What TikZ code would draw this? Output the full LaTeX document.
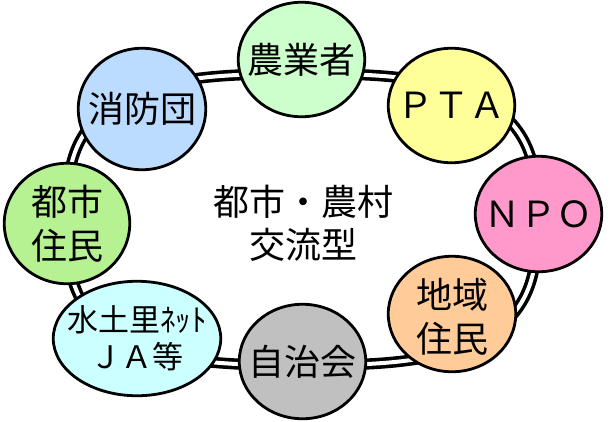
\documentclass[tikz,border=0pt]{standalone}
\usepackage{fontspec}
\setmainfont{Noto Sans CJK JP}
\usetikzlibrary{shapes.geometric}
\definecolor{cNogyo}{HTML}{CCFFCC}
\definecolor{cShobo}{HTML}{BBDBFF}
\definecolor{cPta}{HTML}{FFFF99}
\definecolor{cToshi}{HTML}{B6F291}
\definecolor{cNpo}{HTML}{FF99CC}
\definecolor{cChiiki}{HTML}{FFCC99}
\definecolor{cJichi}{HTML}{C0C0C0}
\definecolor{cMidori}{HTML}{CCFFFF}
\begin{document}
\begin{tikzpicture}[x=1pt,y=-1pt, line join=round, line cap=round,
		member/.style={ellipse, draw, line width=2.8pt, inner sep=0pt,
			minimum width=126.5pt, minimum height=114.5pt},
		lab/.style={align=center, inner sep=0pt, font=\fontsize{36}{44}\selectfont},
		ring/.style={line width=3.6pt, double=white, double distance=4pt}]
	\useasboundingbox (0,0) rectangle (615,421);
	% the ring behind the members
	\draw[ring] plot[smooth cycle, domain=0.5:358, samples=144]
		({302+235*sign(cos(\x))*pow(abs(cos(\x)),2/3)},{219.5+145.5*sign(sin(\x))*pow(abs(sin(\x)),2/3)});
	% members
	\node[member, fill=cNogyo, label={[lab]center:農業者}] (nogyo) at (301.5,59.5) {};
	\node[member, fill=cShobo, minimum width=127.5pt, minimum height=121.5pt,
		label={[lab]center:消防団}] (shobo) at (142,109) {};
	\node[member, fill=cPta, label={[lab]center:ＰＴＡ}] (pta) at (451.5,105.5) {};
	\node[member, fill=cToshi, minimum width=125.5pt, minimum height=120.5pt,
		label={[lab]center:都市\\住民}] (toshi) at (67,223.5) {};
	\node[member, fill=cNpo, minimum height=115.5pt, label={[lab]center:ＮＰＯ}] (npo) at (538.5,214) {};
	\node[member, fill=cChiiki, minimum width=127.5pt, minimum height=115.5pt,
		label={[lab, yshift=-3pt]center:地域\\住民}] (chiiki) at (452,314) {};
	\node[member, fill=cJichi, label={[lab]center:自治会}] (jichi) at (302.5,361.5) {};
	\node[member, fill=cMidori, minimum width=167.5pt,
		label={[lab, font=\fontsize{31}{37}\selectfont]center:水土里ﾈｯﾄ\\ＪＡ等}] (midori) at (137,338.5) {};
	% centre
	\node[lab, font=\fontsize{36}{43}\selectfont] (title) at (303,223.5) {都市・農村\\交流型};
\end{tikzpicture}
\end{document}
